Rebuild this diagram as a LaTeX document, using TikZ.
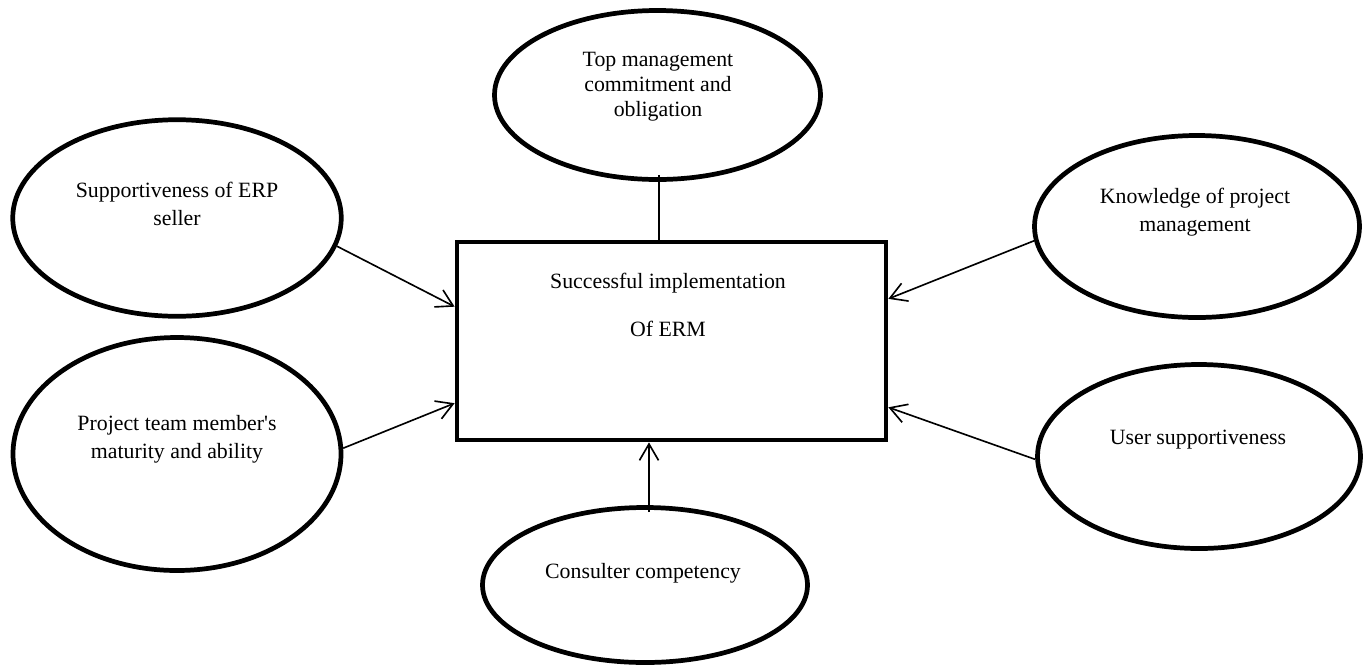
\documentclass[tikz,border=0pt]{standalone}
\usepackage{fontspec}
\setmainfont{Liberation Serif}
\usetikzlibrary{shapes.geometric,arrows.meta}
\begin{document}
\begin{tikzpicture}[x=0.55pt,y=-0.55pt,
  oval/.style={ellipse,draw,line width=2.6pt,inner sep=0pt},
  lbl/.style={align=center,font=\fontsize{12pt}{15.4pt}\selectfont,inner sep=0pt},
  conn/.style={line width=0.9pt},
  arr/.style={conn,-{Straight Barb[length=9pt,width=10.5pt]}}]
\fill[white] (0,0) rectangle (1370,669);
\useasboundingbox (0,0) rectangle (1370,669);

\node[draw,line width=2.6pt,minimum width=235.95pt,minimum height=108.9pt,inner sep=0pt] (box) at (671.5,341) {};
\node[lbl,font=\fontsize{12pt}{13.8pt}\selectfont] (tbox) at (668,305) {Successful implementation\\[12.6pt]Of ERM};

\node[oval,minimum width=179.3pt,minimum height=92.95pt] (etop) at (657.5,95) {};
\node[lbl,font=\fontsize{12pt}{13.8pt}\selectfont] (ttop) at (658,87) {Top management\\commitment and\\obligation};

\node[oval,minimum width=180.7pt,minimum height=108.1pt] (elt) at (177,218) {};
\node[lbl] (tlt) at (177,204) {Supportiveness of ERP\\seller};

\node[oval,minimum width=180.4pt,minimum height=128.15pt] (elb) at (177,454) {};
\node[lbl] (tlb) at (177,439) {Project team member\textquotesingle s\\maturity and ability};

\node[oval,minimum width=178.75pt,minimum height=100.1pt] (ert) at (1197,226.5) {};
\node[lbl] (trt) at (1195,212) {Knowledge of project\\management};

\node[oval,minimum width=177.65pt,minimum height=101.2pt] (erb) at (1199,456.5) {};
\node[lbl] (trb) at (1198,440) {User supportiveness};

\node[oval,minimum width=178.75pt,minimum height=85.25pt] (eb) at (645,585) {};
\node[lbl] (tb) at (643,573) {Consulter competency};

\draw[conn] ([xshift=0.8pt,yshift=3.85pt]etop.south) -- ([xshift=0.8pt]etop.south |- box.north);
\draw[arr] (elt.-10) -- (box.171.6);
\draw[arr] (elb.2.1) -- (box.196.7);
\draw[arr] (ert.185.4) -- (box.11.2);
\draw[arr] (erb.181.7) -- (box.-17.2);
\draw[arr] ([xshift=2.2pt,yshift=-3.85pt]eb.north) -- ([xshift=2.2pt]eb.north |- box.south);
\end{tikzpicture}
\end{document}
